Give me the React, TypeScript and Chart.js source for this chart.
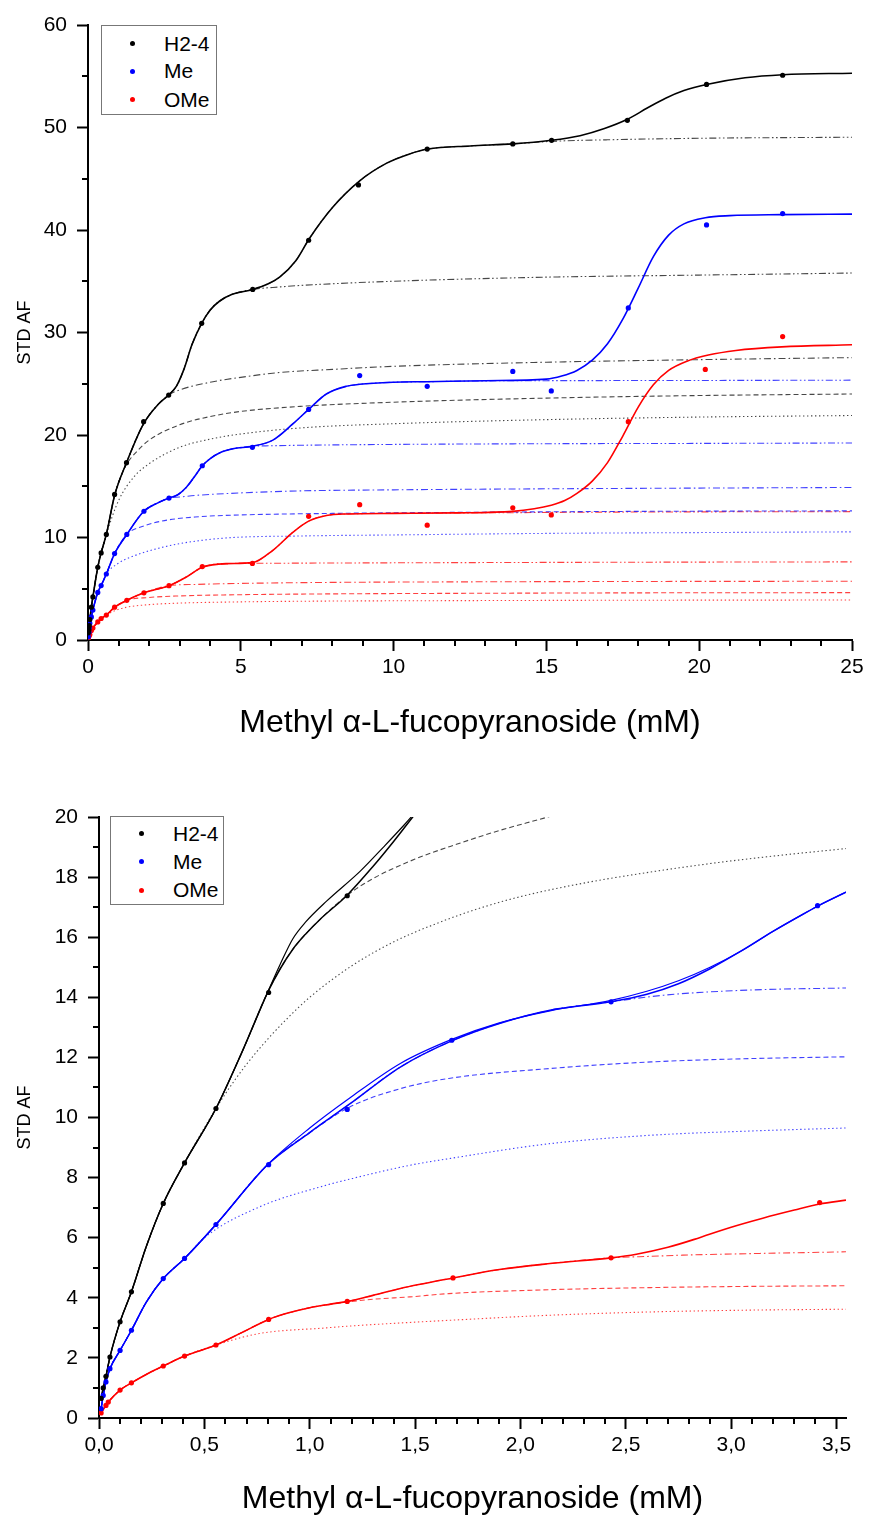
import React, { useEffect, useRef } from 'react';
import { Chart, registerables } from 'chart.js';

Chart.register(...registerables);

type P = [number, number];

const FONT = "'Liberation Sans', Arial, Helvetica, sans-serif";

const seriesNames = ['H2-4', 'Me', 'OMe'];
const seriesColors = ['#000000', '#0000ff', '#ff0000'];
const compColors = ['rgba(0,0,0,0.72)', 'rgba(0,0,255,0.75)', 'rgba(255,0,0,0.75)'];

const xTitle = 'Methyl \u03b1-L-fucopyranoside (mM)';
const yTitle = 'STD AF';

// ---------- tick values ----------
const topXTicks = [0, 5, 10, 15, 20, 25];
const topYTicks = [0, 10, 20, 30, 40, 50, 60];
const topXMinor = [1, 2, 3, 4, 6, 7, 8, 9, 11, 12, 13, 14, 16, 17, 18, 19, 21, 22, 23, 24];
const topYMinor = [5, 15, 25, 35, 45, 55];
const botXTicks = [0, 0.5, 1, 1.5, 2, 2.5, 3, 3.5];
const botYTicks = [0, 2, 4, 6, 8, 10, 12, 14, 16, 18, 20];
const botXMinor = [0.1, 0.2, 0.3, 0.4, 0.6, 0.7, 0.8, 0.9, 1.1, 1.2, 1.3, 1.4, 1.6, 1.7, 1.8, 1.9, 2.1, 2.2, 2.3, 2.4, 2.6, 2.7, 2.8, 2.9, 3.1, 3.2, 3.3, 3.4];
const botYMinor = [1, 3, 5, 7, 9, 11, 13, 15, 17, 19];

// ---------- TOP chart: measured points ----------
const topH24Pts: P[] = [[0.01, 0.7], [0.03, 1.0], [0.04, 1.4], [0.06, 2.0], [0.11, 3.2], [0.16, 4.2], [0.32, 7.1], [0.43, 8.5], [0.6, 10.3], [0.87, 14.2], [1.26, 17.3], [1.82, 21.3], [2.64, 23.9], [3.72, 30.9], [5.39, 34.2], [7.22, 39.0], [8.85, 44.4], [11.1, 47.9], [13.9, 48.4], [15.17, 48.75], [17.65, 50.7], [20.24, 54.2], [22.73, 55.1]];
const topMePts: P[] = [[0.01, 0.31], [0.03, 0.75], [0.04, 1.2], [0.06, 1.64], [0.11, 2.25], [0.16, 2.92], [0.32, 4.64], [0.43, 5.31], [0.6, 6.44], [0.87, 8.43], [1.27, 10.3], [1.83, 12.56], [2.65, 13.85], [3.74, 17.0], [5.38, 18.8], [7.22, 22.5], [8.89, 25.8], [11.1, 24.75], [13.9, 26.2], [15.16, 24.3], [17.68, 32.4], [20.24, 40.5], [22.73, 41.6]];
const topOMePts: P[] = [[0.01, 0.17], [0.04, 0.42], [0.06, 0.53], [0.11, 0.93], [0.16, 1.17], [0.32, 1.76], [0.43, 2.1], [0.6, 2.43], [0.87, 3.2], [1.27, 3.87], [1.83, 4.6], [2.65, 5.3], [3.74, 7.16], [5.38, 7.47], [7.22, 12.07], [8.89, 13.2], [11.1, 11.2], [13.9, 12.9], [15.16, 12.2], [17.68, 21.3], [20.2, 26.4], [22.73, 29.6]];

// ---------- TOP chart: fitted curves ----------
const topH24Fit: P[] = [[0, 0], [0.01, 0.7], [0.03, 1.0], [0.04, 1.4], [0.06, 2.0], [0.11, 3.2], [0.16, 4.2], [0.32, 7.1], [0.43, 8.5], [0.6, 10.3], [0.87, 14.1], [1.26, 17.3], [1.82, 21.1], [2.3, 23.0], [2.64, 23.9], [2.9, 24.8], [3.15, 26.5], [3.4, 28.8], [3.72, 30.9], [4.0, 32.2], [4.3, 33.05], [4.7, 33.7], [5.39, 34.2], [5.9, 34.75], [6.27, 35.4], [6.8, 37.0], [7.25, 39.2], [8.0, 42.2], [8.89, 44.8], [9.76, 46.5], [10.5, 47.4], [11.12, 47.9], [12.5, 48.2], [13.9, 48.4], [15.16, 48.75], [16.1, 49.2], [16.9, 49.9], [17.65, 50.8], [18.3, 51.9], [18.9, 52.85], [19.5, 53.6], [20.24, 54.2], [21.5, 54.85], [22.73, 55.15], [25, 55.3]];
const topH24DotTail: P[] = [[1.0, 13.6], [1.5, 15.9], [2, 17.2], [3, 18.8], [4, 19.6], [5, 20.1], [7, 20.7], [10, 21.1], [15, 21.5], [20, 21.75], [25, 21.9]];
const topH24DashTail: P[] = [[1.2, 16.8], [1.6, 18.4], [2, 19.5], [3, 21.0], [4, 21.8], [5, 22.3], [7, 22.8], [10, 23.2], [15, 23.6], [20, 23.85], [25, 24.0]];
const topH24DashDotTail: P[] = [[3.0, 24.4], [4.09, 25.2], [5.18, 25.7], [6.27, 26.1], [8, 26.4], [10, 26.7], [15, 27.1], [20, 27.35], [25, 27.55]];
const topH24DDot1Tail: P[] = [[6.3, 34.45], [7, 34.6], [10, 35.0], [15, 35.4], [20, 35.6], [25, 35.8]];
const topH24DDot2Tail: P[] = [[15.16, 48.65], [17, 48.8], [20, 48.95], [25, 49.05]];

const topMeFit: P[] = [[0, 0], [0.01, 0.31], [0.03, 0.75], [0.04, 1.2], [0.06, 1.64], [0.11, 2.25], [0.16, 2.92], [0.32, 4.64], [0.43, 5.31], [0.6, 6.44], [0.87, 8.43], [1.27, 10.3], [1.83, 12.56], [2.3, 13.4], [2.65, 13.85], [2.95, 14.2], [3.22, 14.9], [3.5, 16.0], [3.74, 17.0], [4.0, 17.7], [4.3, 18.25], [4.74, 18.65], [5.38, 18.9], [6.05, 19.5], [6.71, 21.1], [7.22, 22.5], [7.8, 24.0], [8.45, 24.75], [8.89, 24.95], [10, 25.15], [11.07, 25.2], [13, 25.3], [15.0, 25.45], [15.5, 25.75], [16.0, 26.3], [16.5, 27.3], [17.0, 28.9], [17.5, 31.3], [18.0, 34.3], [18.5, 37.4], [19.0, 39.5], [19.5, 40.6], [20.2, 41.2], [21, 41.4], [22.7, 41.5], [25, 41.55]];
const topMeDotTail: P[] = [[1.0, 7.5], [1.5, 8.2], [2, 8.7], [3, 9.4], [4.5, 9.95], [7, 10.15], [10, 10.25], [15, 10.4], [20, 10.48], [25, 10.55]];
const topMeDashTail: P[] = [[1.8, 11.1], [2.5, 11.65], [3.5, 12.0], [5, 12.2], [8, 12.35], [12, 12.45], [18, 12.55], [25, 12.6]];
const topMeDashDotTail: P[] = [[3.0, 13.95], [3.5, 14.1], [5, 14.35], [7, 14.55], [10, 14.65], [15, 14.75], [20, 14.82], [25, 14.88]];
const topMeDDot1Tail: P[] = [[6, 18.95], [7, 19.0], [10, 19.08], [15, 19.15], [20, 19.18], [25, 19.22]];
const topMeDDot2Tail: P[] = [[13, 25.28], [15, 25.3], [20, 25.32], [25, 25.35]];

const topOMeFit: P[] = [[0, 0], [0.01, 0.17], [0.04, 0.42], [0.06, 0.53], [0.11, 0.93], [0.16, 1.17], [0.32, 1.76], [0.43, 2.1], [0.6, 2.43], [0.87, 3.2], [1.27, 3.87], [1.83, 4.6], [2.65, 5.3], [3.22, 6.15], [3.74, 7.1], [4.52, 7.45], [5.38, 7.55], [6.05, 8.75], [6.7, 10.5], [7.22, 11.6], [7.8, 12.15], [8.5, 12.3], [10, 12.35], [12, 12.4], [13.9, 12.55], [14.6, 12.8], [15.16, 13.15], [15.6, 13.6], [16.0, 14.3], [16.5, 15.5], [17.0, 17.3], [17.5, 19.9], [18.0, 22.7], [18.5, 24.9], [19.0, 26.3], [19.6, 27.2], [20.3, 27.8], [21.2, 28.25], [22.7, 28.6], [25, 28.8]];
const topOMeDotTail: P[] = [[0.87, 2.85], [1.27, 3.2], [2, 3.45], [3, 3.6], [5, 3.72], [8, 3.8], [12, 3.84], [18, 3.88], [25, 3.9]];
const topOMeDashTail: P[] = [[2, 4.15], [3, 4.3], [5, 4.42], [8, 4.5], [12, 4.55], [18, 4.6], [25, 4.62]];
const topOMeDashDotTail: P[] = [[3.5, 5.42], [5, 5.52], [8, 5.62], [12, 5.67], [18, 5.71], [25, 5.73]];
const topOMeDDot1Tail: P[] = [[5.38, 7.48], [7, 7.5], [10, 7.53], [15, 7.57], [20, 7.6], [25, 7.62]];
const topOMeDDot2Tail: P[] = [[13.9, 12.42], [15.16, 12.45], [20, 12.5], [25, 12.52]];

// ---------- BOTTOM chart: measured points ----------
const botH24Pts: P[] = [[0.01, 0.65], [0.02, 1.0], [0.033, 1.39], [0.052, 2.03], [0.1, 3.2], [0.154, 4.2], [0.305, 7.14], [0.406, 8.49], [0.555, 10.3], [0.805, 14.16], [1.178, 17.38]];
const botMePts: P[] = [[0.01, 0.31], [0.02, 0.75], [0.033, 1.2], [0.052, 1.64], [0.1, 2.25], [0.154, 2.92], [0.305, 4.64], [0.406, 5.31], [0.555, 6.44], [0.805, 8.43], [1.178, 10.27], [1.674, 12.57], [2.43, 13.85], [3.41, 17.05]];
const botOMePts: P[] = [[0.01, 0.17], [0.033, 0.42], [0.044, 0.53], [0.1, 0.93], [0.154, 1.17], [0.305, 1.73], [0.406, 2.06], [0.555, 2.43], [0.805, 3.28], [1.178, 3.88], [1.68, 4.66], [2.43, 5.33], [3.42, 7.17]];

// ---------- BOTTOM chart: fitted curves ----------
const botH24Fit: P[] = [[0.01, 0.65], [0.02, 1.0], [0.033, 1.39], [0.052, 2.03], [0.1, 3.2], [0.154, 4.2], [0.224, 5.7], [0.305, 7.14], [0.406, 8.49], [0.555, 10.3], [0.68, 12.2], [0.8, 14.16], [0.86, 14.95], [0.92, 15.6], [0.98, 16.1], [1.05, 16.6], [1.175, 17.38], [1.3, 18.35], [1.4, 19.2], [1.5, 20.1], [1.55, 20.55]];
const botH24Fit2Tail: P[] = [[0.86, 15.1], [0.92, 15.95], [0.98, 16.5], [1.08, 17.2], [1.24, 18.2], [1.35, 19.0], [1.45, 19.75], [1.55, 20.55]];
const botH24DashTail: P[] = [[1.3, 17.95], [1.5, 18.6], [1.7, 19.1], [1.9, 19.55], [2.13, 20.0], [2.25, 20.25]];
const botH24DotTail: P[] = [[0.65, 11.3], [0.75, 12.2], [0.88, 13.2], [1.0, 14.0], [1.2, 15.05], [1.4, 15.85], [1.6, 16.45], [1.8, 16.95], [2.0, 17.35], [2.3, 17.8], [2.6, 18.15], [2.9, 18.45], [3.2, 18.7], [3.545, 18.95]];

const botMeFit: P[] = [[0.01, 0.31], [0.02, 0.75], [0.033, 1.2], [0.052, 1.64], [0.1, 2.25], [0.154, 2.92], [0.224, 3.85], [0.305, 4.64], [0.406, 5.31], [0.555, 6.44], [0.8, 8.43], [1.0, 9.5], [1.19, 10.45], [1.43, 11.68], [1.674, 12.55], [1.9, 13.13], [2.14, 13.57], [2.43, 13.85], [2.6, 14.1], [2.75, 14.45], [2.9, 14.95], [3.05, 15.55], [3.2, 16.2], [3.35, 16.8], [3.42, 17.07], [3.545, 17.5]];
const botMeFit2Tail: P[] = [[1.0, 9.65], [1.19, 10.65], [1.43, 11.8], [1.674, 12.6], [1.9, 13.15], [2.14, 13.55], [2.43, 13.9], [2.6, 14.2], [2.75, 14.55], [2.9, 15.0], [3.05, 15.55], [3.2, 16.2], [3.35, 16.8], [3.42, 17.07], [3.545, 17.5]];
const botMeDashDotTail: P[] = [[2.68, 14.07], [3.08, 14.24], [3.545, 14.31]];
const botMeDashTail: P[] = [[1.19, 10.35], [1.43, 10.96], [1.66, 11.3], [2.14, 11.63], [2.62, 11.85], [3.09, 11.96], [3.545, 12.02]];
const botMeDotTail: P[] = [[0.5, 6.0], [0.76, 7.02], [1.08, 7.75], [1.19, 7.95], [1.475, 8.41], [1.66, 8.63], [2.14, 9.13], [2.62, 9.41], [3.09, 9.55], [3.545, 9.65]];

const botOMeFit: P[] = [[0.01, 0.17], [0.033, 0.42], [0.044, 0.53], [0.1, 0.93], [0.154, 1.17], [0.224, 1.45], [0.305, 1.73], [0.406, 2.06], [0.555, 2.43], [0.68, 2.85], [0.805, 3.28], [0.9, 3.5], [1.0, 3.67], [1.1, 3.79], [1.18, 3.88], [1.3, 4.08], [1.43, 4.31], [1.68, 4.66], [1.9, 4.94], [2.14, 5.14], [2.43, 5.33], [2.55, 5.45], [2.7, 5.68], [2.85, 6.0], [3.0, 6.35], [3.15, 6.65], [3.3, 6.92], [3.42, 7.12], [3.545, 7.25]];
const botOMeDashDotTail: P[] = [[2.62, 5.38], [2.77, 5.42], [3.09, 5.47], [3.545, 5.53]];
const botOMeDashTail: P[] = [[1.11, 3.8], [1.3, 3.95], [1.475, 4.03], [1.66, 4.14], [2.14, 4.27], [2.62, 4.34], [3.09, 4.38], [3.545, 4.4]];
const botOMeDotTail: P[] = [[0.76, 2.81], [1.08, 3.0], [1.19, 3.06], [1.475, 3.18], [1.66, 3.25], [2.14, 3.42], [2.62, 3.53], [3.09, 3.59], [3.545, 3.62]];

// ---------- helpers ----------
const branch = (base: P[], upto: number, tail: P[]): P[] => [...base.filter((p) => p[0] <= upto), ...tail];

const DOT = [1.4, 2.6];
const DASH = [5, 3];
const DASHDOT = [7, 3, 1.6, 3];
const DASHDOTDOT = [7, 2.5, 1.6, 2.5, 1.6, 2.5];

const toXY = (d: P[]) => d.map(([x, y]) => ({ x, y }));

const lineDs = (data: P[], color: string, width: number, dash: number[], order: number) => ({
  data: toXY(data),
  showLine: true,
  pointRadius: 0,
  pointHoverRadius: 0,
  borderColor: color,
  backgroundColor: color,
  borderWidth: width,
  borderDash: dash,
  cubicInterpolationMode: 'monotone',
  fill: false,
  order,
});

const ptDs = (data: P[], color: string) => ({
  data: toXY(data),
  showLine: false,
  pointRadius: 2.6,
  pointHoverRadius: 2.6,
  pointBackgroundColor: color,
  pointBorderColor: color,
  pointBorderWidth: 0,
  order: 0,
});

const topDatasets = [
  ptDs(topH24Pts, seriesColors[0]),
  ptDs(topMePts, seriesColors[1]),
  ptDs(topOMePts, seriesColors[2]),
  lineDs(topH24Fit, seriesColors[0], 1.6, [], 1),
  lineDs(topMeFit, seriesColors[1], 1.6, [], 1),
  lineDs(topOMeFit, seriesColors[2], 1.6, [], 1),
  lineDs(branch(topH24Fit, 0.6, topH24DotTail), compColors[0], 1.1, DOT, 2),
  lineDs(branch(topH24Fit, 0.87, topH24DashTail), compColors[0], 1.1, DASH, 2),
  lineDs(branch(topH24Fit, 2.64, topH24DashDotTail), compColors[0], 1.1, DASHDOT, 2),
  lineDs(branch(topH24Fit, 5.39, topH24DDot1Tail), compColors[0], 1.1, DASHDOTDOT, 2),
  lineDs(branch(topH24Fit, 13.9, topH24DDot2Tail), compColors[0], 1.1, DASHDOTDOT, 2),
  lineDs(branch(topMeFit, 0.6, topMeDotTail), compColors[1], 1.1, DOT, 2),
  lineDs(branch(topMeFit, 1.27, topMeDashTail), compColors[1], 1.1, DASH, 2),
  lineDs(branch(topMeFit, 2.65, topMeDashDotTail), compColors[1], 1.1, DASHDOT, 2),
  lineDs(branch(topMeFit, 5.38, topMeDDot1Tail), compColors[1], 1.1, DASHDOTDOT, 2),
  lineDs(branch(topMeFit, 11.07, topMeDDot2Tail), compColors[1], 1.1, DASHDOTDOT, 2),
  lineDs(branch(topOMeFit, 0.6, topOMeDotTail), compColors[2], 1.1, DOT, 2),
  lineDs(branch(topOMeFit, 1.27, topOMeDashTail), compColors[2], 1.1, DASH, 2),
  lineDs(branch(topOMeFit, 2.65, topOMeDashDotTail), compColors[2], 1.1, DASHDOT, 2),
  lineDs(branch(topOMeFit, 4.52, topOMeDDot1Tail), compColors[2], 1.1, DASHDOTDOT, 2),
  lineDs(branch(topOMeFit, 12, topOMeDDot2Tail), compColors[2], 1.1, DASHDOTDOT, 2),
];

const botDatasets = [
  ptDs(botH24Pts, seriesColors[0]),
  ptDs(botMePts, seriesColors[1]),
  ptDs(botOMePts, seriesColors[2]),
  lineDs(botH24Fit, seriesColors[0], 1.5, [], 1),
  lineDs(branch(botH24Fit, 0.8, botH24Fit2Tail), seriesColors[0], 1.2, [], 1),
  lineDs(botMeFit, seriesColors[1], 1.5, [], 1),
  lineDs(branch(botMeFit, 0.8, botMeFit2Tail), seriesColors[1], 1.2, [], 1),
  lineDs(botOMeFit, seriesColors[2], 1.6, [], 1),
  lineDs(branch(botH24Fit, 1.175, botH24DashTail), compColors[0], 1.1, DASH, 2),
  lineDs(branch(botH24Fit, 0.555, botH24DotTail), compColors[0], 1.1, DOT, 2),
  lineDs(branch(botMeFit, 2.43, botMeDashDotTail), compColors[1], 1.1, DASHDOT, 2),
  lineDs(branch(botMeFit, 1.0, botMeDashTail), compColors[1], 1.1, DASH, 2),
  lineDs(branch(botMeFit, 0.406, botMeDotTail), compColors[1], 1.1, DOT, 2),
  lineDs(branch(botOMeFit, 2.43, botOMeDashDotTail), compColors[2], 1.1, DASHDOT, 2),
  lineDs(branch(botOMeFit, 1.0, botOMeDashTail), compColors[2], 1.1, DASH, 2),
  lineDs(branch(botOMeFit, 0.555, botOMeDotTail), compColors[2], 1.1, DOT, 2),
];

const makeMinorPlugin = (xs: number[], ys: number[], len: number) => ({
  id: 'minorTicks',
  afterDraw(chart: any) {
    const { ctx, chartArea, scales } = chart;
    ctx.save();
    ctx.strokeStyle = '#000';
    ctx.lineWidth = 2;
    xs.forEach((v) => {
      const px = Math.round(scales.x.getPixelForValue(v));
      ctx.beginPath();
      ctx.moveTo(px, chartArea.bottom);
      ctx.lineTo(px, chartArea.bottom + len);
      ctx.stroke();
    });
    ys.forEach((v) => {
      const py = Math.round(scales.y.getPixelForValue(v));
      ctx.beginPath();
      ctx.moveTo(chartArea.left, py);
      ctx.lineTo(chartArea.left - len, py);
      ctx.stroke();
    });
    ctx.restore();
  },
});

type Spec = {
  datasets: any[];
  xMin: number; xMax: number; yMin: number; yMax: number;
  xTicks: number[]; yTicks: number[]; xMinor: number[]; yMinor: number[];
  padTop: number; padRight: number; yWidth: number; xHeight: number;
  xTitlePad: number; xLabel: (v: number) => string;
};

const axisCommon = {
  border: { display: true, color: '#000', width: 2 },
  grid: { display: true, drawOnChartArea: false, drawTicks: true, tickLength: 11, tickColor: '#000', tickWidth: 2, color: '#000' },
};

function buildConfig(s: Spec): any {
  return {
    type: 'scatter',
    data: { datasets: s.datasets },
    options: {
      animation: false,
      responsive: false,
      maintainAspectRatio: false,
      events: [],
      layout: { padding: { top: s.padTop, right: s.padRight, left: 0, bottom: 0 } },
      plugins: { legend: { display: false }, tooltip: { enabled: false } },
      scales: {
        x: {
          type: 'linear',
          min: s.xMin,
          max: s.xMax,
          ...axisCommon,
          afterFit: (sc: any) => { sc.height = s.xHeight; },
          afterBuildTicks: (sc: any) => { sc.ticks = s.xTicks.map((v) => ({ value: v })); },
          ticks: {
            color: '#000', padding: 4, autoSkip: false, maxRotation: 0, minRotation: 0,
            font: { family: FONT, size: 21 },
            callback: (v: any) => s.xLabel(Number(v)),
          },
          title: {
            display: true, text: xTitle, color: '#000',
            font: { family: FONT, size: 32, lineHeight: 1 },
            padding: { top: 0, bottom: s.xTitlePad },
          },
        },
        y: {
          type: 'linear',
          min: s.yMin,
          max: s.yMax,
          ...axisCommon,
          afterFit: (sc: any) => { sc.width = s.yWidth; },
          afterBuildTicks: (sc: any) => { sc.ticks = s.yTicks.map((v) => ({ value: v })); },
          ticks: {
            color: '#000', padding: 10, autoSkip: false,
            font: { family: FONT, size: 21 },
            callback: (v: any) => String(v),
          },
          title: {
            display: true, text: yTitle, color: '#000',
            font: { family: FONT, size: 18, lineHeight: 1.2 },
            padding: { top: 14, bottom: 0 },
          },
        },
      },
    },
    plugins: [makeMinorPlugin(s.xMinor, s.yMinor, 6)],
  };
}

const topSpec: Spec = {
  datasets: topDatasets,
  xMin: 0, xMax: 25, yMin: 0, yMax: 60,
  xTicks: topXTicks, yTicks: topYTicks, xMinor: topXMinor, yMinor: topYMinor,
  padTop: 25, padRight: 17, yWidth: 88, xHeight: 130,
  xTitlePad: 31, xLabel: (v) => String(v),
};

const botSpec: Spec = {
  datasets: botDatasets,
  xMin: 0, xMax: 3.545, yMin: 0, yMax: 20,
  xTicks: botXTicks, yTicks: botYTicks, xMinor: botXMinor, yMinor: botYMinor,
  padTop: 47, padRight: 23, yWidth: 99, xHeight: 97,
  xTitlePad: 0, xLabel: (v) => v.toFixed(1).replace('.', ','),
};

function ChartCanvas({ spec, top, height }: { spec: Spec; top: number; height: number }) {
  const ref = useRef<HTMLCanvasElement>(null);
  useEffect(() => {
    if (!ref.current) return;
    const chart = new Chart(ref.current, buildConfig(spec));
    return () => chart.destroy();
  }, [spec]);
  return (
    <canvas
      ref={ref}
      width={869}
      height={height}
      style={{ position: 'absolute', left: 0, top, width: 869, height, display: 'block' }}
    />
  );
}

function Legend({ left, top, width, height, dotX, textX, rows }: { left: number; top: number; width: number; height: number; dotX: number; textX: number; rows: number[] }) {
  return (
    <div style={{ position: 'absolute', left, top, width, height, border: '1px solid #777', boxSizing: 'border-box', background: '#fff' }}>
      {seriesNames.map((name, i) => (
        <React.Fragment key={name}>
          <div
            style={{
              position: 'absolute', left: dotX - left - 2.5, top: rows[i] - top - 2.5,
              width: 5, height: 5, borderRadius: '50%', background: seriesColors[i],
            }}
          />
          <div
            style={{
              position: 'absolute', left: textX - left, top: rows[i] - top - 12,
              height: 24, lineHeight: '24px', fontSize: 21, fontFamily: FONT, color: '#000', whiteSpace: 'nowrap',
            }}
          >
            {name}
          </div>
        </React.Fragment>
      ))}
    </div>
  );
}

export default function App() {
  useEffect(() => {
    document.body.style.margin = '0';
  }, []);
  return (
    <div style={{ position: 'relative', width: 869, height: 1515, overflow: 'hidden', background: '#fff' }}>
      <ChartCanvas spec={topSpec} top={0} height={770} />
      <ChartCanvas spec={botSpec} top={770} height={745} />
      <Legend left={101} top={25} width={116} height={90} dotX={131} textX={163} rows={[42.5, 70.3, 98.5]} />
      <Legend left={110} top={816} width={114} height={89} dotX={140} textX={172} rows={[832.7, 860.7, 889]} />
    </div>
  );
}
